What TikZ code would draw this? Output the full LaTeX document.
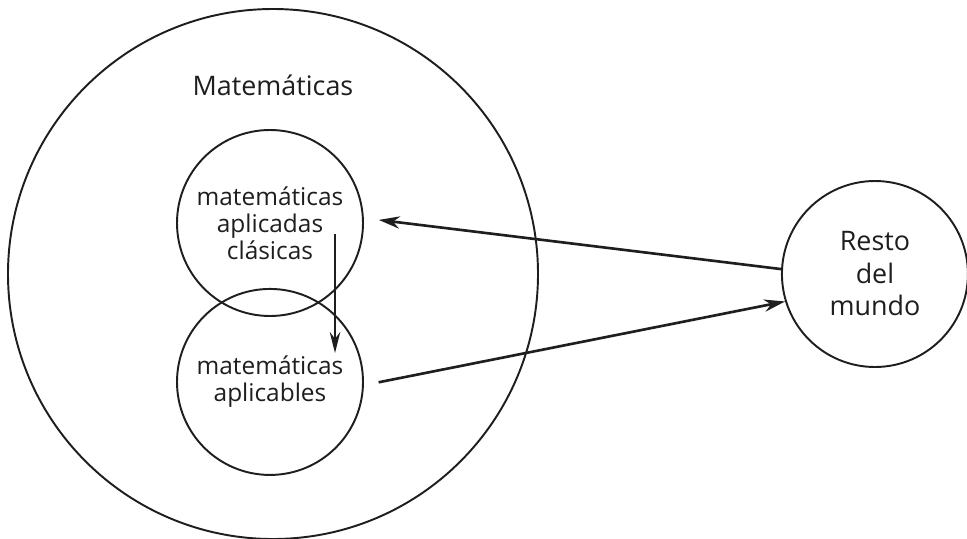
\documentclass[tikz,border=0pt]{standalone}
\usepackage{fontspec}
\setmainfont{Open Sans}
\usetikzlibrary{positioning, arrows.meta, calc}
\definecolor{tinta}{RGB}{30,30,30}

\begin{document}
\begin{tikzpicture}
    \useasboundingbox (0,0) rectangle (19.34,-10.76);
    \node[draw, circle, color=tinta, line width=1.1pt, minimum size=10.6cm] (mat) at (5.46,-5.48) {};
    \node[color=tinta, font=\fontsize{15.3}{18.5}\selectfont] (titulo) at ($(mat.north)+(0,-1.55)$) {Matemáticas};
    \node[draw, circle, color=tinta, line width=1.1pt, minimum size=3.72cm, align=center, font=\fontsize{13.9}{15.4}\selectfont] (clasicas) at (5.40,-4.46) {matemáticas\\aplicadas\\clásicas};
    \node[draw, circle, color=tinta, line width=1.1pt, minimum size=3.72cm, align=center, font=\fontsize{13.9}{15.4}\selectfont, below=-0.58cm of clasicas] (aplicables) {matemáticas\\aplicables};
    \node[draw, circle, color=tinta, line width=1.1pt, minimum size=3.72cm, align=center, font=\fontsize{15.3}{18.5}\selectfont, right=4.84cm of mat] (resto) {Resto\\del\\mundo};
    \draw[-{Stealth[length=12pt, width=7pt]}, line width=1.5pt, color=tinta, shorten >=0.3cm] (resto.177) -- (clasicas.3);
    \draw[-{Stealth[length=12pt, width=7pt]}, line width=1.5pt, color=tinta, shorten <=0.3cm] (aplicables.358) -- (resto.197);
    \coordinate (baja1) at ($(clasicas.center)+(1.3,-0.22)$);
    \coordinate (baja2) at ($(clasicas.center)+(1.3,-2.6)$);
    \draw[-{Stealth[length=12pt, width=6pt]}, line width=1.1pt, color=tinta] (baja1) -- (baja2);
\end{tikzpicture}
\end{document}
